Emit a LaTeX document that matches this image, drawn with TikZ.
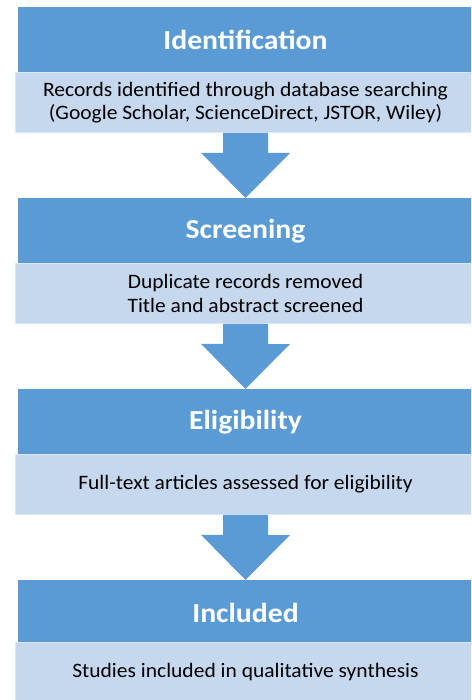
\documentclass[tikz,border=0pt]{standalone}
\usepackage{fontspec}
\setmainfont{Carlito}
\newfontfamily\hdrfont[FakeStretch=1.08]{Carlito}
\newfontfamily\subfont[FakeStretch=1.05]{Carlito}
\definecolor{hdrblue}{HTML}{5B9BD5}
\definecolor{subblue}{HTML}{C5D8EE}
\definecolor{subedge}{HTML}{DCE7F4}
\begin{document}
\begin{tikzpicture}[x=1pt,y=-1pt,
  hdr/.style={fill=hdrblue,draw=none,inner sep=0pt,minimum width=455pt,minimum height=65pt,
    text=white,font=\hdrfont\fontsize{27.5}{33}\selectfont\bfseries,anchor=north},
  sub/.style={fill=subblue,draw=subedge,line width=0.8pt,inner sep=0pt,minimum width=461pt,minimum height=60pt,
    text=black,font=\subfont\fontsize{20.5}{23.4}\selectfont,align=center,anchor=north},
  arr/.style={fill=hdrblue,draw=none}]
\useasboundingbox (0,0) rectangle (471,700);
\begin{scope}
\clip (0,0) rectangle (471,700);
\node[hdr] (h1) at (245.5,7) {Identification};
\node[sub] (s1) at (245.5,72) {Records identified through database searching\\(Google Scholar, ScienceDirect, JSTOR, Wiley)};
\node[hdr] (h2) at (245.5,198) {Screening};
\node[sub] (s2) at (245.5,263) {Duplicate records removed\\Title and abstract screened};
\node[hdr] (h3) at (245.5,389) {Eligibility};
\node[sub] (s3) at (245.5,454) {Full-text articles assessed for eligibility};
\node[hdr] (h4) at (245.5,580) {Included};
\node[sub] (s4) at (245.5,642) {Studies included in qualitative synthesis};
\foreach \a/\b in {s1/h2,s2/h3,s3/h4}{
  \fill[arr] (\a.south) ++(-22.5,0) -- ++(0,20) -- ++(-22,0) -- (\b.north)
    -- ++(44.5,-45) -- ++(-22,0) -- ++(0,-20) -- cycle;
}
\end{scope}
\end{tikzpicture}
\end{document}
